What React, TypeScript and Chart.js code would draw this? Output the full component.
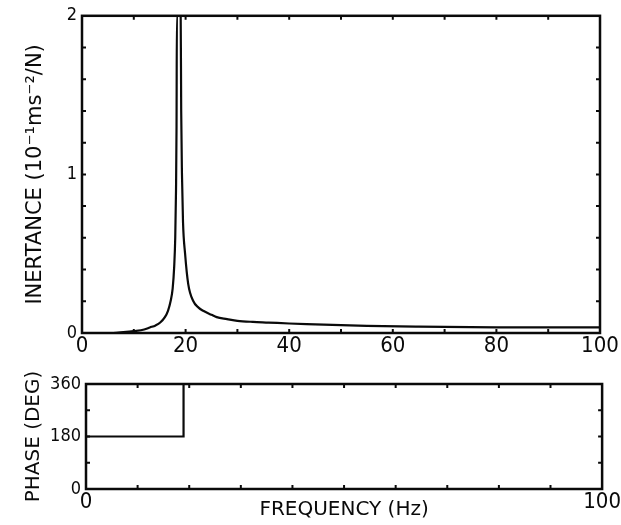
import { useEffect, useRef } from "react";
import { Chart, registerables } from "chart.js";

Chart.register(...registerables);

// ---- data ----
const frequencyHz = [0, 6, 8, 10, 12, 13.1, 14.2, 15.1, 16.0, 16.6, 17.1, 17.5, 17.8, 18.0, 18.15, 18.25, 18.32, 19.05, 19.15, 19.3, 19.5, 19.9, 20.5, 21.5, 22.5, 23.4, 25, 26, 28, 30, 33, 36, 40, 45, 50, 55, 65, 80, 100];
const inertance = [0, 0, 0.005, 0.012, 0.022, 0.035, 0.048, 0.066, 0.1, 0.14, 0.2, 0.28, 0.42, 0.6, 0.9, 1.3, 2.0, 2.0, 1.4, 1.0, 0.7, 0.5, 0.31, 0.2, 0.16, 0.14, 0.115, 0.1, 0.088, 0.077, 0.07, 0.066, 0.06, 0.055, 0.05, 0.045, 0.04, 0.036, 0.035];

const phaseFrequencyHz = [0, 18.9, 18.9, 100];
const phaseDeg = [180, 180, 360, 360];

const freqMinorTicks = [10, 20, 30, 40, 50, 60, 70, 80, 90];
const inertanceMinorTicks = [0.2, 0.4, 0.6, 0.8, 1.0, 1.2, 1.4, 1.6, 1.8];
const phaseMinorTicks = [90, 180, 270];

const inertanceTitle = "INERTANCE (10⁻¹ms⁻²/N)";
const phaseTitle = "PHASE (DEG)";
const freqTitle = "FREQUENCY (Hz)";

const TICK_FONT = "'DejaVu Sans Condensed', 'DejaVu Sans', sans-serif";
const TITLE_FONT = "'DejaVu Sans', sans-serif";
const INK = "#0a0a0a";

const frameTicks = {
  id: "frameTicks",
  afterDraw(chart: any, _args: any, opts: any) {
    const { ctx, chartArea: a, scales } = chart;
    const xs = scales.x;
    const ys = scales.y;
    ctx.save();
    ctx.strokeStyle = INK;
    ctx.lineWidth = 2.5;
    ctx.lineCap = "square";
    ctx.strokeRect(a.left, a.top, a.right - a.left, a.bottom - a.top);
    ctx.lineWidth = 2;
    ctx.lineCap = "butt";
    const len = 4;
    ctx.beginPath();
    for (const v of opts.xMinor || []) {
      const px = xs.getPixelForValue(v);
      ctx.moveTo(px, a.bottom);
      ctx.lineTo(px, a.bottom - len);
      ctx.moveTo(px, a.top);
      ctx.lineTo(px, a.top + len);
    }
    for (const v of opts.yMinor || []) {
      const py = ys.getPixelForValue(v);
      ctx.moveTo(a.left, py);
      ctx.lineTo(a.left + len, py);
      ctx.moveTo(a.right, py);
      ctx.lineTo(a.right - len, py);
    }
    ctx.stroke();
    ctx.restore();
  },
};

export default function App() {
  const topRef = useRef<HTMLCanvasElement>(null);
  const botRef = useRef<HTMLCanvasElement>(null);

  useEffect(() => {
    const topChart = new Chart(topRef.current as HTMLCanvasElement, {
      type: "line",
      data: {
        datasets: [
          {
            data: frequencyHz.map((f, i) => ({ x: f, y: inertance[i] })),
            borderColor: INK,
            borderWidth: 2.2,
            pointRadius: 0,
            cubicInterpolationMode: "monotone",
            fill: false,
          },
        ],
      },
      options: {
        animation: false,
        responsive: false,
        devicePixelRatio: 1,
        layout: { padding: { left: 0, right: 21, top: 14, bottom: 0 } },
        plugins: {
          legend: { display: false },
          tooltip: { enabled: false },
          frameTicks: { xMinor: freqMinorTicks, yMinor: inertanceMinorTicks },
        } as any,
        scales: {
          x: {
            type: "linear",
            min: 0,
            max: 100,
            grid: { display: false, drawTicks: false },
            border: { display: false },
            ticks: { stepSize: 20, color: INK, font: { family: TICK_FONT, size: 22 }, padding: 0, maxRotation: 0, autoSkip: false },
            afterFit: (s: any) => { s.height = 32; },
          },
          y: {
            type: "linear",
            min: 0,
            max: 2,
            grid: { display: false, drawTicks: false },
            border: { display: false },
            ticks: { stepSize: 1, color: INK, font: { family: TICK_FONT, size: 18 }, padding: 5 },
            title: { display: true, text: inertanceTitle, color: INK, font: { family: TITLE_FONT, size: 21 }, padding: { top: 23, bottom: 0 } },
            afterFit: (s: any) => { s.width = 82; },
          },
        },
      },
      plugins: [frameTicks],
    });

    const botChart = new Chart(botRef.current as HTMLCanvasElement, {
      type: "line",
      data: {
        datasets: [
          {
            data: phaseFrequencyHz.map((f, i) => ({ x: f, y: phaseDeg[i] })),
            borderColor: INK,
            borderWidth: 2.2,
            pointRadius: 0,
            tension: 0,
            fill: false,
          },
        ],
      },
      options: {
        animation: false,
        responsive: false,
        devicePixelRatio: 1,
        layout: { padding: { left: 0, right: 17, top: 19, bottom: 0 } },
        plugins: {
          legend: { display: false },
          tooltip: { enabled: false },
          frameTicks: { xMinor: freqMinorTicks, yMinor: phaseMinorTicks },
        } as any,
        scales: {
          x: {
            type: "linear",
            min: 0,
            max: 100,
            grid: { display: false, drawTicks: false },
            border: { display: false },
            ticks: { stepSize: 100, color: INK, font: { family: TICK_FONT, size: 22 }, padding: 0, maxRotation: 0, autoSkip: false },
            title: { display: true, text: freqTitle, color: INK, font: { family: TITLE_FONT, size: 20 }, padding: { top: 0, bottom: 3 } },
            afterFit: (s: any) => { s.height = 36; },
          },
          y: {
            type: "linear",
            min: 0,
            max: 360,
            grid: { display: false, drawTicks: false },
            border: { display: false },
            ticks: { stepSize: 180, color: INK, font: { family: TICK_FONT, size: 18 }, padding: 5 },
            title: { display: true, text: phaseTitle, color: INK, font: { family: TITLE_FONT, size: 20 }, padding: { top: 22, bottom: 0 } },
            afterFit: (s: any) => { s.width = 86; },
          },
        },
      },
      plugins: [frameTicks],
    });

    return () => {
      topChart.destroy();
      botChart.destroy();
    };
  }, []);

  return (
    <div style={{ position: "absolute", left: 0, top: 0, width: 621, height: 525, background: "#fff" }}>
      <canvas ref={topRef} width={621} height={365} style={{ position: "absolute", left: 0, top: 0, width: 621, height: 365 }} />
      <canvas ref={botRef} width={621} height={160} style={{ position: "absolute", left: 0, top: 365, width: 621, height: 160 }} />
    </div>
  );
}
